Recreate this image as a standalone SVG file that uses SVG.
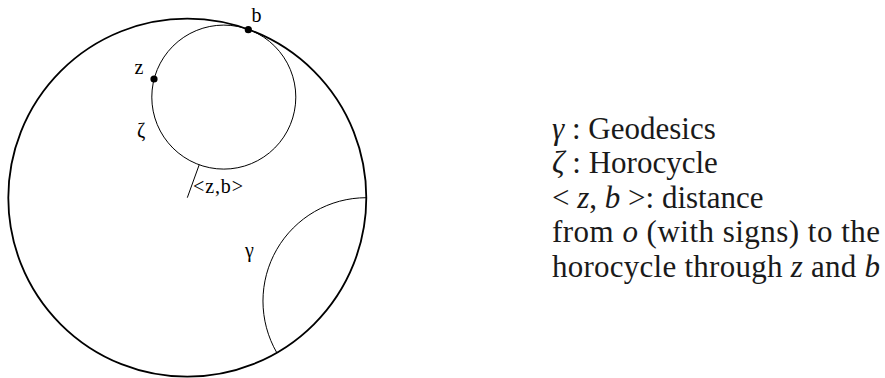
<svg xmlns="http://www.w3.org/2000/svg" width="885" height="378" viewBox="0 0 885 378">
<style>
.thick{fill:none;stroke:#000;stroke-width:1.8}
.thin{fill:none;stroke:#000;stroke-width:1}
.lbl{font-family:Liberation Serif;font-size:20px;fill:#000}
.leg{font-family:Liberation Serif;font-size:31px;fill:#1a1a1a}
.it{font-style:italic}
</style>
<rect width="885" height="378" fill="#fff"/>
<g id="disk">
<circle class="thick" cx="187.3" cy="197.7" r="179"/>
</g>
<g id="horocycle">
<circle class="thin" cx="223.8" cy="97.1" r="72"/>
<text class="lbl" x="137" y="137" font-family="Liberation Serif">ζ</text>
</g>
<g id="connectors">
<line class="thin" x1="187.3" y1="197.7" x2="199.2" y2="164.8"/>
<path id="geodesic" class="thin" d="M366.3 197.7 A103.35 103.35 0 0 0 276.8 352.7"/>
</g>
<g id="point-b">
<circle cx="248.3" cy="29.7" r="3.6" fill="#000"/>
<text class="lbl" x="251.5" y="21.5" font-family="Liberation Serif">b</text>
</g>
<g id="point-z">
<circle cx="154" cy="79" r="3.6" fill="#000"/>
<text class="lbl" x="134.5" y="74" font-family="Liberation Serif">z</text>
</g>
<g id="label-zb">
<text class="lbl" x="193" y="193" font-family="Liberation Serif" textLength="50">&lt;z,b&gt;</text>
</g>
<g id="label-gamma">
<text class="lbl" x="245" y="257" font-family="Liberation Serif">γ</text>
</g>
<g id="legend">
<text class="leg" x="552" y="139" font-family="Liberation Serif"><tspan class="it">γ</tspan> : Geodesics</text>
<text class="leg" x="552" y="173" font-family="Liberation Serif"><tspan class="it">ζ</tspan> : Horocycle</text>
<text class="leg" x="552" y="208" font-family="Liberation Serif">&lt; <tspan class="it">z</tspan>, <tspan class="it">b</tspan> &gt;: distance</text>
<text class="leg" x="552" y="242" font-family="Liberation Serif" textLength="328">from <tspan class="it">o</tspan> (with signs) to the</text>
<text class="leg" x="552" y="277" font-family="Liberation Serif" textLength="328">horocycle through <tspan class="it">z</tspan> and <tspan class="it">b</tspan></text>
</g>
</svg>
